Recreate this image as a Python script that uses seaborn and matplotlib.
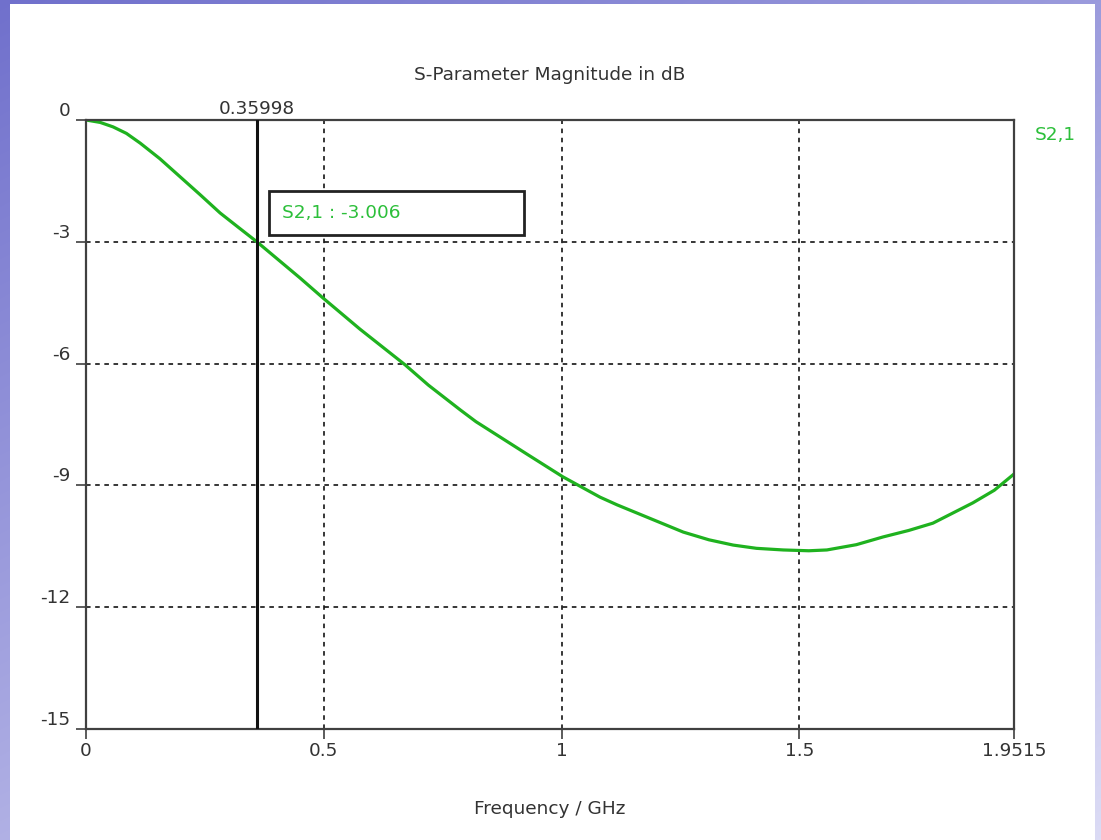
import numpy as np
import pandas as pd
import matplotlib
matplotlib.use("Agg")
import matplotlib.pyplot as plt
import matplotlib.transforms as mtransforms
from matplotlib.patches import Rectangle
import seaborn as sns

# S21 magnitude trace (GHz, dB)
freq_ghz = [0.0, 0.03, 0.057, 0.085, 0.114, 0.155, 0.198, 0.24, 0.282, 0.32,
            0.35998, 0.45, 0.498, 0.576, 0.671, 0.72, 0.787, 0.82, 0.871,
            0.93, 1.003, 1.081, 1.117, 1.2, 1.256, 1.31, 1.361, 1.41, 1.466,
            1.52, 1.558, 1.62, 1.676, 1.73, 1.781, 1.865, 1.91, 1.9515]
s21_db = [0.0, -0.06, -0.17, -0.33, -0.57, -0.95, -1.40, -1.84, -2.29, -2.64,
          -3.006, -3.89, -4.38, -5.15, -6.03, -6.53, -7.14, -7.43, -7.81,
          -8.25, -8.79, -9.29, -9.48, -9.88, -10.15, -10.34, -10.47, -10.55,
          -10.59, -10.61, -10.59, -10.46, -10.27, -10.11, -9.93, -9.43, -9.12,
          -8.72]

marker_freq = 0.35998
marker_db = -3.006
trace_name = "S2,1"

x_ticks = [0, 0.5, 1, 1.5, 1.9515]
x_tick_labels = ["0", "0.5", "1", "1.5", "1.9515"]
y_ticks = [0, -3, -6, -9, -12, -15]
y_tick_labels = ["0", "-3", "-6", "-9", "-12", "-15"]

df = pd.DataFrame({"Frequency": freq_ghz, "S21": s21_db})

sns.set_theme(style="white")
plt.rcParams["font.family"] = ["DejaVu Sans"]
FS = 13.3

W, H = 1101, 840
fig = plt.figure(figsize=(W / 100, H / 100), dpi=100)

# slide-style lavender backdrop with a white card
yy, xx = np.mgrid[0:H, 0:W]
t = 0.6 * yy / H + 0.4 * xx / W
dark = np.array([0.44, 0.44, 0.80])
light = np.array([0.86, 0.86, 0.96])
bg = dark[None, None, :] * (1 - t[..., None]) + light[None, None, :] * t[..., None]
fig.figimage(bg, xo=0, yo=0, origin="upper", zorder=-2)
fig.patches.append(Rectangle((10 / W, 0), (1095 - 10) / W, (H - 4) / H,
                             transform=fig.transFigure, facecolor="white",
                             edgecolor="none", zorder=-1))

ax = fig.add_axes([86 / W, 1 - 729 / H, (1014 - 86) / W, (729 - 120) / H])
ax.set_facecolor("white")

green = "#1fb21f"
sns.lineplot(data=df, x="Frequency", y="S21", ax=ax, color=green,
             linewidth=2.3, zorder=3)

ax.set_xlim(0, 1.9515)
ax.set_ylim(-15, 0)
ax.set_xticks(x_ticks)
ax.set_xticklabels(x_tick_labels)
ax.set_yticks(y_ticks)
ax.set_yticklabels(y_tick_labels, va="bottom")

ax.grid(True, color="black", linestyle=(0, (3, 3)), linewidth=1.1)
for s in ax.spines.values():
    s.set_color("#404040")
    s.set_linewidth(1.6)
    s.set_zorder(4)

ax.tick_params(axis="both", which="major", direction="out", length=7.5,
               width=1.2, color="#404040", labelsize=FS, labelcolor="#333333",
               bottom=True, left=True)
ax.tick_params(axis="y", pad=4)
ax.tick_params(axis="x", pad=2)

# frequency marker
ax.axvline(marker_freq, color="#111111", linewidth=2.2, zorder=5)
trans = mtransforms.blended_transform_factory(ax.transData, ax.transAxes)
ax.text(marker_freq, 1.004, f"{marker_freq:.5f}", transform=trans,
        ha="center", va="bottom", fontsize=FS, color="#333333")

# marker readout box
ax.add_patch(Rectangle((0.197, 0.811), 0.275, 0.072, transform=ax.transAxes,
                       facecolor="white", edgecolor="#222222", linewidth=2.0,
                       zorder=6))
ax.text(0.211, 0.848, f"{trace_name} : {marker_db:.3f}", transform=ax.transAxes,
        ha="left", va="center", fontsize=FS, color="#2cbf3a", zorder=7)

# trace legend on the right
ax.text(1.022, 0.975, trace_name, transform=ax.transAxes, ha="left",
        va="center", fontsize=FS, color="#2cbf3a")

ax.set_title("S-Parameter Magnitude in dB", fontsize=FS, color="#333333",
             pad=29)
ax.set_xlabel("Frequency / GHz", fontsize=FS, color="#333333", labelpad=29)
ax.set_ylabel("")

fig.savefig("out.png", dpi=100)
